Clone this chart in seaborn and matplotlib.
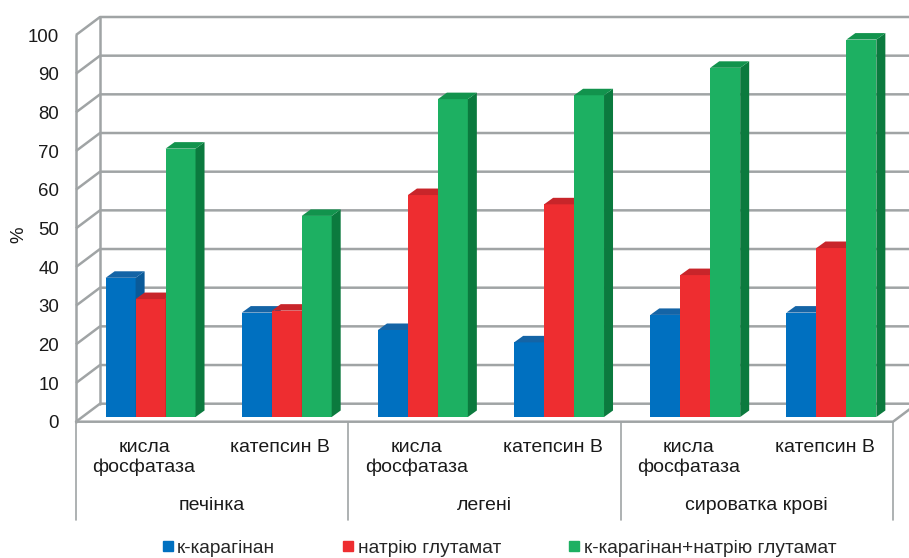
import matplotlib
matplotlib.use('Agg')
import matplotlib.pyplot as plt
import seaborn as sns
import pandas as pd
from matplotlib.patches import Polygon
from matplotlib.lines import Line2D
from matplotlib.transforms import ScaledTranslation

# ---------------- data ----------------
tissues = ['печінка', 'легені', 'сироватка крові']
enzymes = ['кисла\nфосфатаза', 'катепсин B']
series = ['к-карагінан', 'натрію глутамат', 'к-карагінан+натрію глутамат']
carrageenan = [36.0, 27.0, 22.5, 19.3, 26.4, 27.0]
glutamate = [30.5, 27.5, 57.4, 55.0, 36.7, 43.7]
combined = [69.4, 52.0, 82.2, 83.2, 90.3, 97.6]
yticks = list(range(0, 101, 10))

front_colors = ['#0070C0', '#EE2D30', '#1DB062']
side_colors = ['#0A5A99', '#B81F23', '#0B7A3E']
top_colors = ['#1464A6', '#C8252A', '#12934D']
grid_color = '#A0A4A5'

sns.set_style('white')
plt.rcParams['font.family'] = ['Liberation Sans', 'DejaVu Sans']

cats = [f'{t}|{e}' for t in tissues for e in enzymes]
rows = []
for s, vals in zip(series, [carrageenan, glutamate, combined]):
    for c, v in zip(cats, vals):
        rows.append({'cat': c, 'series': s, 'value': v})
df = pd.DataFrame(rows)

# ---------------- figure / axes ----------------
W, H = 909, 558
DPI = 100
fig = plt.figure(figsize=(W / DPI, H / DPI), dpi=DPI)
L, R, B, T = 76, 893, 421.7, 35
ax = fig.add_axes([L / W, 1 - B / H, (R - L) / W, (B - T) / H])

sns.barplot(data=df, x='cat', y='value', hue='series', order=cats,
            hue_order=series, palette=front_colors, width=0.66, gap=0,
            saturation=1, edgecolor='none', linewidth=0, legend=False,
            errorbar=None, ax=ax)
ax.set_xlim(-0.5, len(cats) - 0.5)
ax.set_ylim(0, 100)

px_x = (R - L) / len(cats)   # pixels per x data unit
px_y = (B - T) / 100.0       # pixels per y data unit

def dd(px, py):
    return px / px_x, py / px_y

# 3D-ish offsets
bar_shift = ScaledTranslation(6.5 / DPI, 4.7 / DPI, fig.dpi_scale_trans)
bar_tr = ax.transData + bar_shift
ddx, ddy = dd(9, 6.5)        # bar depth
wdx, wdy = dd(24, 18)        # wall depth

# ---------------- bars with sides and tops ----------------
n = len(cats)
for i, p in enumerate(ax.patches):
    si = i // n
    x, w, h = p.get_x(), p.get_width(), p.get_height()
    p.set_transform(bar_tr)
    p.set_clip_on(False)
    p.set_zorder(3 + si)
    side = Polygon([(x + w, 0), (x + w, h), (x + w + ddx, h + ddy), (x + w + ddx, ddy)],
                   closed=True, facecolor=side_colors[si], edgecolor='none',
                   transform=bar_tr, clip_on=False, zorder=3 + si + 0.5)
    top = Polygon([(x, h), (x + w, h), (x + w + ddx, h + ddy), (x + ddx, h + ddy)],
                  closed=True, facecolor=top_colors[si], edgecolor='none',
                  transform=bar_tr, clip_on=False, zorder=3 + si + 0.5)
    ax.add_patch(side)
    ax.add_patch(top)

# ---------------- walls / grid ----------------
x0 = -0.5
x1 = len(cats) - 0.5
far = x1 + 1.0
lw = 1.8
for v in yticks:
    ax.plot([x0, x0 + wdx, far], [v, v + wdy, v + wdy], color=grid_color,
            lw=lw, clip_on=False, zorder=1, solid_capstyle='butt')
ax.plot([x0 + wdx, x0 + wdx], [wdy, 100 + wdy], color=grid_color, lw=lw,
        clip_on=False, zorder=1)
ax.plot([x0, x0], [0, 100], color=grid_color, lw=lw, clip_on=False, zorder=1)
ax.plot([x0, x1, x1 + wdx], [0, 0, wdy], color=grid_color, lw=lw,
        clip_on=False, zorder=1)

# separators below the floor
sep_bottom = -(520 - B) / px_y
for xs in [x0, 1.5, 3.5, x1]:
    ax.plot([xs, xs], [0, sep_bottom], color=grid_color, lw=1.2,
            clip_on=False, zorder=1)

# ---------------- axes cosmetics ----------------
for s in ax.spines.values():
    s.set_visible(False)
ax.set_yticks(yticks)
ax.set_yticklabels([str(v) for v in yticks])
ax.tick_params(axis='y', length=4.3, width=1.3, color=grid_color, pad=8,
               labelsize=13.4, labelcolor='#1a1a1a')
ax.set_xticks([])
ax.set_xlabel('')
ax.set_ylabel('')
ax.grid(False)

fig.text(19 / W, 1 - 235 / H, '%', rotation=90, ha='center', va='center',
         fontsize=13.4, color='#1a1a1a')

# category labels
lab_top = -(439 - B) / px_y
for i, c in enumerate(cats):
    e = enzymes[i % 2]
    ax.text(i, lab_top, e, ha='center', va='top', fontsize=14,
            color='#1a1a1a', linespacing=1.2, clip_on=False)
grp_y = -(506 - B) / px_y
for g, t in enumerate(tissues):
    ax.text(2 * g + 0.5, grp_y, t, ha='center', va='center', fontsize=14,
            color='#1a1a1a', clip_on=False)

# legend
handles = [Line2D([], [], marker='s', ls='', color=c, markersize=7)
           for c in front_colors]
fig.legend(handles=handles, labels=series, loc='center',
           bbox_to_anchor=(499 / W, 1 - 548 / H), ncol=3, frameon=False,
           prop={'size': 13.8}, handlelength=0.6, handletextpad=0.2,
           columnspacing=3.5, borderpad=0, borderaxespad=0)

fig.savefig('out.png', dpi=DPI)
